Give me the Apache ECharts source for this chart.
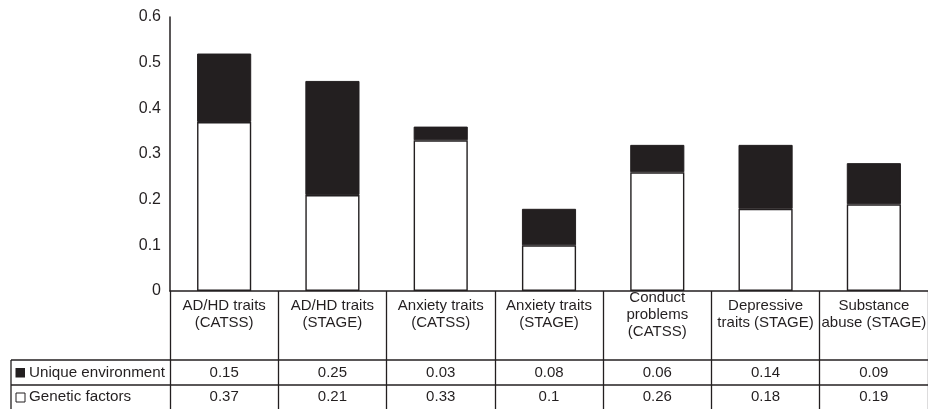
<!DOCTYPE html>
<html>
<head>
<meta charset="utf-8">
<script src="https://cdn.jsdelivr.net/npm/echarts@6/dist/echarts.min.js"></script>
<style>
html,body{margin:0;padding:0;background:#fff;}
#chart{width:928px;height:409px;}
</style>
</head>
<body>
<div id="chart"></div>
<script>
const categories = [
  "AD/HD traits\n(CATSS)",
  "AD/HD traits\n(STAGE)",
  "Anxiety traits\n(CATSS)",
  "Anxiety traits\n(STAGE)",
  "Conduct\nproblems\n(CATSS)",
  "Depressive\ntraits (STAGE)",
  "Substance\nabuse (STAGE)"
];
const uniqueEnvironment = [0.15, 0.25, 0.03, 0.08, 0.06, 0.14, 0.09];
const geneticFactors = [0.37, 0.21, 0.33, 0.1, 0.26, 0.18, 0.19];
const rowLabels = ["Unique environment", "Genetic factors"];
const yTicks = { min: 0, max: 0.6, interval: 0.1 };

const INK = '#231f20';
const FONT = '"Liberation Sans", Arial, sans-serif';

const chart = echarts.init(document.getElementById('chart'), null, { renderer: 'canvas' });

const W = 928, H = 409;
const gridLeft = 170, gridTop = 17, gridBottom = 118;
const axisY = H - gridBottom; // 291
const row1Top = 360, row2Top = 385;
const tableLeft = 11;

const option = {
  animation: false,
  backgroundColor: '#fff',
  textStyle: { fontFamily: FONT, color: INK },
  grid: { left: gridLeft, right: 0, top: gridTop, bottom: gridBottom, containLabel: false, outerBoundsMode: 'none' },
  xAxis: [
    {
      type: 'category',
      data: categories,
      position: 'bottom',
      axisLine: { show: true, lineStyle: { color: INK, width: 1.5 } },
      axisTick: { show: true, interval: 0, length: gridBottom, alignWithLabel: false, lineStyle: { color: INK, width: 1.3 } },
      axisLabel: {
        interval: 0, margin: 23.5, verticalAlign: 'middle',
        fontSize: 15, lineHeight: 17, color: INK, fontFamily: FONT, align: 'center'
      },
      splitLine: { show: false }
    },
    {
      type: 'category',
      data: uniqueEnvironment.map(v => String(v)),
      position: 'bottom',
      offset: row1Top - axisY,
      axisLine: { show: false },
      axisTick: { show: false },
      axisLabel: { interval: 0, margin: 12.5, verticalAlign: 'middle', fontSize: 15, color: INK, fontFamily: FONT }
    },
    {
      type: 'category',
      data: geneticFactors.map(v => String(v)),
      position: 'bottom',
      offset: row2Top - axisY,
      axisLine: { show: false },
      axisTick: { show: false },
      axisLabel: { interval: 0, margin: 12, verticalAlign: 'middle', fontSize: 15, color: INK, fontFamily: FONT }
    }
  ],
  yAxis: {
    type: 'value',
    min: yTicks.min, max: yTicks.max, interval: yTicks.interval,
    axisLine: { show: true, lineStyle: { color: INK, width: 1.5 } },
    axisTick: { show: false },
    splitLine: { show: false },
    axisLabel: {
      margin: 9, fontSize: 16, color: INK, fontFamily: FONT, padding: [4, 0, 0, 0],
      formatter: v => (v === 0 ? '0' : v.toFixed(1))
    }
  },
  series: [
    {
      name: 'Genetic factors',
      type: 'bar',
      stack: 'total',
      xAxisIndex: 0,
      barWidth: '50%',
      data: geneticFactors,
      itemStyle: { color: '#ffffff', borderColor: INK, borderWidth: 1.4 }
    },
    {
      name: 'Unique environment',
      type: 'bar',
      stack: 'total',
      xAxisIndex: 0,
      barWidth: '50%',
      data: uniqueEnvironment,
      itemStyle: { color: INK, borderColor: INK, borderWidth: 1 }
    }
  ],
  graphic: [
    { type: 'line', silent: true, shape: { x1: tableLeft, y1: row1Top, x2: W, y2: row1Top }, style: { stroke: INK, lineWidth: 1.3 } },
    { type: 'line', silent: true, shape: { x1: tableLeft, y1: row2Top, x2: W, y2: row2Top }, style: { stroke: INK, lineWidth: 1.3 } },
    { type: 'line', silent: true, shape: { x1: tableLeft, y1: row1Top, x2: tableLeft, y2: H }, style: { stroke: INK, lineWidth: 1.3 } },
    { type: 'rect', silent: true, shape: { x: 15.5, y: 368, width: 9.5, height: 9.5 }, style: { fill: INK } },
    { type: 'rect', silent: true, shape: { x: 16, y: 393, width: 9, height: 9 }, style: { fill: '#fff', stroke: INK, lineWidth: 1 } },
    { type: 'text', silent: true, x: 29, y: (row1Top + row2Top) / 2, style: { text: rowLabels[0], fontSize: 15.2, fontFamily: FONT, fill: INK, verticalAlign: 'middle' } },
    { type: 'text', silent: true, x: 29, y: row2Top + 12, style: { text: rowLabels[1], fontSize: 15.2, fontFamily: FONT, fill: INK, verticalAlign: 'middle' } }
  ]
};

chart.setOption(option);
</script>
</body>
</html>
